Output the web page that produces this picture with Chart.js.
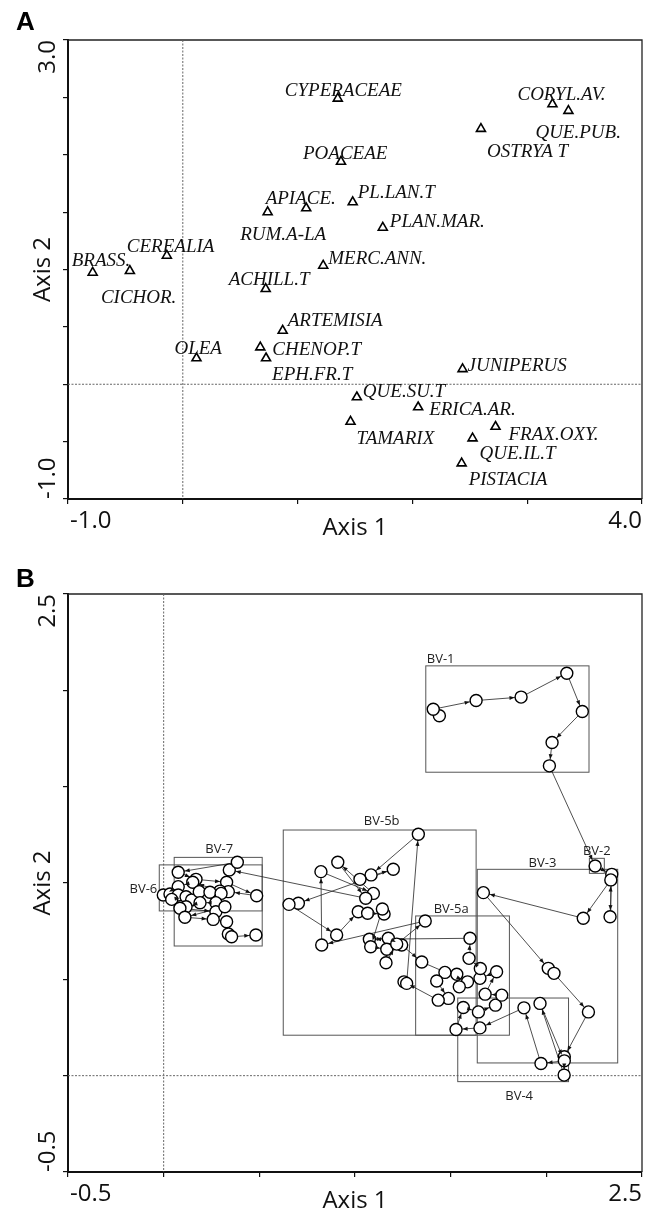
<!DOCTYPE html>
<html><head><meta charset="utf-8">
<script src="https://cdn.jsdelivr.net/npm/chart.js@4.4.0/dist/chart.umd.min.js"></script>
<style>
html,body{margin:0;padding:0;background:#fff;width:654px;height:1211px;overflow:hidden;}
canvas{position:absolute;left:0;}
#ca{top:0;} #cb{top:560px;}
</style></head><body>
<canvas id="ca" width="654" height="560"></canvas>
<canvas id="cb" width="654" height="651"></canvas>
<script>
// ---------- Panel A : taxa scores ----------
const taxa = ['CYPERACEAE','POACEAE','APIACE.','RUM.A-LA','PL.LAN.T','BRASS.','CICHOR.','CEREALIA','MERC.ANN.','CORYL.AV.','QUE.PUB.','OSTRYA T','PLAN.MAR.','ACHILL.T','ARTEMISIA','CHENOP.T','EPH.FR.T','OLEA','QUE.SU.T','TAMARIX','ERICA.AR.','JUNIPERUS','FRAX.OXY.','QUE.IL.T','PISTACIA'];
const taxaAxis1 = [1.35,1.378,0.739,1.075,1.48,-0.785,-0.461,-0.139,1.223,3.22,3.359,2.597,1.742,0.722,0.870,0.675,0.725,0.119,1.516,1.461,2.05,2.437,2.724,2.524,2.429];
const taxaAxis2 = [2.49,1.94,1.50,1.534,1.587,0.973,0.988,1.121,1.034,2.441,2.383,2.226,1.365,0.831,0.467,0.322,0.227,0.227,-0.113,-0.326,-0.20,0.133,-0.37,-0.471,-0.689];
const axisA_x = {min:-1, max:4, step:1};
const axisA_y = {min:-1, max:3, step:0.5};
const tickLabelsA_x = ['-1.0','4.0'];
const tickLabelsA_y = ['-1.0','3.0'];

// ---------- Panel B : sample scores (trajectory, in order) ----------
const sampleAxis1 = [1.441,1.409,1.633,1.868,2.107,2.188,2.030,2.016,
  2.255,
  2.342,2.333,2.337,2.193,1.671,2.010,2.040,2.220,2.094,2.093,1.967,2.094,1.972,1.883,1.653,
  1.528,1.566,1.645,1.734,1.767,1.680,1.740,1.653,1.655,1.596,1.601,1.075,1.174,1.244,1.349,1.588,1.545,1.532,1.470,1.427,1.488,1.435,1.256,1.270,
  1.331,1.084,1.026,1.200,0.704,0.655,0.904,1.017,1.066,1.152,1.143,1.082,1.166,1.162,1.218,1.367,0.826,0.822,1.096,0.910,1.056,
  0.343,0.385,0.076,0.169,0.329,0.486,0.338,0.294,0.152,0.076,-0.002,0.033,0.076,0.042,0.117,0.146,0.186,0.242,0.300,0.273,0.190,0.117,0.085,0.273,0.320,0.111,0.259,0.329,0.338,0.355,0.482];
const sampleAxis2 = [1.868,1.902,1.947,1.965,2.089,1.890,1.729,1.608,
  1.088,
  1.045,0.825,1.016,0.817,0.950,0.557,0.531,0.331,0.098,0.003,0.375,0.077,0.063,0.352,0.248,
  0.240,0.354,0.331,0.366,0.418,0.423,0.539,0.505,0.556,0.609,0.713,0.708,0.713,0.678,0.590,0.487,0.461,0.526,0.536,0.491,0.401,0.392,0.487,0.479,
  1.253,1.042,1.019,1.071,0.895,0.889,0.730,0.851,0.843,0.839,0.865,0.669,0.656,0.586,0.683,0.803,0.678,1.059,0.946,1.108,0.921,
  1.068,1.108,1.056,1.019,1.004,0.934,0.955,0.958,1.004,0.981,0.938,0.943,0.938,0.915,0.929,0.912,0.955,0.952,0.946,0.898,0.898,0.877,0.869,0.851,0.877,0.822,0.811,0.799,0.735,0.721,0.730];
const zoneNames = ['BV-1','BV-2','BV-3','BV-4','BV-5a','BV-5b','BV-6','BV-7'];
const zoneAxis1Min = [1.370,2.225,1.639,1.537,1.317,0.625,-0.023,0.055];
const zoneAxis1Max = [2.223,2.303,2.373,2.116,1.807,1.633,0.515,0.515];
const zoneAxis2Min = [1.575,1.050,0.066,-0.031,0.210,0.210,0.855,0.673];
const zoneAxis2Max = [2.127,1.128,1.071,0.403,0.829,1.275,1.094,1.133];
const axisB_x = {min:-0.5, max:2.5, step:0.5};
const axisB_y = {min:-0.5, max:2.5, step:0.5};
const tickLabelsB_x = ['-0.5','2.5'];
const tickLabelsB_y = ['-0.5','2.5'];

// ---------- layout (pixels, not data) ----------
const taxaLabelOffset = [[-53,-3],[-38,-3],[-2,-8],[-66,32],[5,-4],[-21,-7],[-29,32],[-40,-4],[5,-2],[-35,-4],[-33,27],[6,28],[7,-1],[-37,-4],[5,-5],[12,8],[6,22],[-22,-4],[6,0],[6,22],[11,8],[5,2],[13,13],[7,21],[7,22]];
const zoneLabelLayout = [['top','left',1,-3],['top','center',0,-3],['top','center',-5,-2],['bottom','center',6,18],['top','left',18,-3],['top','center',2,-5],['left','right',-2,5],['top','center',1,-4]];

const AX_FONT = '24px "Open Sans"';

function axisScale(r, pos){
  return {
    type:'linear', position:pos, min:r.min, max:r.max,
    ticks:{display:false, stepSize:r.step},
    grid:{display:true, drawOnChartArea:false, drawTicks:true, tickLength:5, color:'#111', lineWidth:1.2},
    border:{display:true, color:'#111', width:2},
    afterFit(s){ if(pos==='left') s.width=0; else s.height=0; }
  };
}

function frameAndText(opts){
  return {
    id:'frame'+opts.letter,
    beforeDatasetsDraw(chart){
      const {ctx, chartArea:ca, scales:{x,y}} = chart;
      ctx.save();
      ctx.strokeStyle='#222'; ctx.lineWidth=1.3;
      ctx.beginPath(); ctx.moveTo(ca.left, ca.top); ctx.lineTo(ca.right, ca.top); ctx.lineTo(ca.right, ca.bottom); ctx.stroke();
      ctx.strokeStyle='#666'; ctx.lineWidth=1; ctx.setLineDash([2,1.5]);
      const x0 = x.getPixelForValue(0), y0 = y.getPixelForValue(0);
      ctx.beginPath(); ctx.moveTo(x0, ca.top); ctx.lineTo(x0, ca.bottom); ctx.stroke();
      ctx.beginPath(); ctx.moveTo(ca.left, y0); ctx.lineTo(ca.right, y0); ctx.stroke();
      ctx.restore();
      if (opts.beforeExtra) opts.beforeExtra(chart);
    },
    afterDraw(chart){
      const {ctx, chartArea:ca, scales:{x,y}} = chart;
      ctx.save();
      ctx.fillStyle='#111'; ctx.font=AX_FONT; ctx.textBaseline='alphabetic';
      ctx.textAlign='left'; ctx.fillText(opts.xl[0], x.getPixelForValue(opts.xr.min)+2, ca.bottom+29);
      ctx.textAlign='right'; ctx.fillText(opts.xl[1], x.getPixelForValue(opts.xr.max), ca.bottom+29);
      ctx.textAlign='center'; ctx.fillText('Axis 1', (ca.left+ca.right)/2, ca.bottom+36);
      const ty = 55;
      ctx.save(); ctx.translate(ty, y.getPixelForValue(opts.yr.min)); ctx.rotate(-Math.PI/2); ctx.textAlign='left'; ctx.fillText(opts.yl[0],0,0); ctx.restore();
      ctx.save(); ctx.translate(ty, y.getPixelForValue(opts.yr.max)); ctx.rotate(-Math.PI/2); ctx.textAlign='right'; ctx.fillText(opts.yl[1],0,0); ctx.restore();
      ctx.save(); ctx.translate(50, (ca.top+ca.bottom)/2); ctx.rotate(-Math.PI/2); ctx.textAlign='center'; ctx.fillText('Axis 2',0,0); ctx.restore();
      ctx.font='bold 26px "Liberation Sans"'; ctx.textAlign='left'; ctx.fillStyle='#000';
      ctx.fillText(opts.letter, 16, opts.letterY);
      ctx.restore();
    }
  };
}

// ---------- Chart A ----------
const taxaLabelPlugin = {
  id:'taxaLabels',
  afterDatasetsDraw(chart){
    const {ctx} = chart; const meta = chart.getDatasetMeta(0);
    ctx.save(); ctx.font='italic 19px "Liberation Serif"'; ctx.fillStyle='#111'; ctx.textAlign='left'; ctx.textBaseline='alphabetic';
    meta.data.forEach((pt,i)=>{ const o=taxaLabelOffset[i]; ctx.fillText(taxa[i], pt.x+o[0], pt.y+o[1]); });
    ctx.restore();
  }
};
new Chart(document.getElementById('ca'), {
  type:'scatter',
  data:{datasets:[{data: taxa.map((t,i)=>({x:taxaAxis1[i], y:taxaAxis2[i]})),
    pointStyle:'triangle', pointRadius:5.2, pointBorderWidth:1.6, pointBorderColor:'#000', pointBackgroundColor:'#fff'}]},
  options:{
    responsive:false, devicePixelRatio:1, animation:false, events:[],
    layout:{padding:{left:68, top:40, right:12, bottom:61}},
    plugins:{legend:{display:false}, tooltip:{enabled:false}},
    scales:{ x:axisScale(axisA_x,'bottom'), y:axisScale(axisA_y,'left') }
  },
  plugins:[frameAndText({letter:'A', letterY:30, xr:axisA_x, yr:axisA_y, xl:tickLabelsA_x, yl:tickLabelsA_y}), taxaLabelPlugin]
});

// ---------- Chart B ----------
function drawZones(chart){
  const {ctx, scales:{x,y}} = chart;
  ctx.save();
  ctx.strokeStyle='#555'; ctx.lineWidth=1;
  ctx.font='13px "Open Sans"'; ctx.fillStyle='#222'; ctx.textBaseline='alphabetic';
  zoneNames.forEach((n,i)=>{
    const l=x.getPixelForValue(zoneAxis1Min[i]), r=x.getPixelForValue(zoneAxis1Max[i]);
    const t=y.getPixelForValue(zoneAxis2Max[i]), b=y.getPixelForValue(zoneAxis2Min[i]);
    ctx.strokeRect(l, t, r-l, b-t);
    const L = zoneLabelLayout[i];
    let lx, ly;
    if (L[0]==='top'){ ly = t + L[3]; lx = (L[1]==='left'? l : (l+r)/2) + L[2]; ctx.textAlign = L[1]; }
    else if (L[0]==='bottom'){ ly = b + L[3]; lx = (l+r)/2 + L[2]; ctx.textAlign='center'; }
    else { ly = (t+b)/2 + L[3]; lx = l + L[2]; ctx.textAlign='right'; }
    ctx.fillText(n, lx, ly);
  });
  ctx.restore();
}
const arrowPlugin = {
  id:'arrows',
  afterDatasetsDraw(chart){
    const {ctx} = chart; const pts = chart.getDatasetMeta(0).data;
    ctx.save(); ctx.fillStyle='#111';
    for (let i=1;i<pts.length;i++){
      const a=pts[i-1], b=pts[i];
      const dx=b.x-a.x, dy=b.y-a.y, d=Math.hypot(dx,dy);
      if (d < 14) continue;
      const ux=dx/d, uy=dy/d;
      const tx=b.x-ux*6.6, ty=b.y-uy*6.6;
      const bx=tx-ux*5, by=ty-uy*5;
      ctx.beginPath(); ctx.moveTo(tx,ty); ctx.lineTo(bx-uy*2, by+ux*2); ctx.lineTo(bx+uy*2, by-ux*2); ctx.closePath(); ctx.fill();
    }
    ctx.restore();
  }
};
new Chart(document.getElementById('cb'), {
  type:'scatter',
  data:{datasets:[{data: sampleAxis1.map((v,i)=>({x:v, y:sampleAxis2[i]})),
    showLine:true, borderColor:'#222', borderWidth:0.8, tension:0,
    pointStyle:'circle', pointRadius:6, pointBorderWidth:1.4, pointBorderColor:'#000', pointBackgroundColor:'#fff'}]},
  options:{
    responsive:false, devicePixelRatio:1, animation:false, events:[],
    layout:{padding:{left:68, top:34, right:12, bottom:39}},
    plugins:{legend:{display:false}, tooltip:{enabled:false}},
    scales:{ x:axisScale(axisB_x,'bottom'), y:axisScale(axisB_y,'left') }
  },
  plugins:[frameAndText({letter:'B', letterY:27, xr:axisB_x, yr:axisB_y, xl:tickLabelsB_x, yl:tickLabelsB_y, beforeExtra:drawZones}), arrowPlugin]
});
</script>
</body></html>
